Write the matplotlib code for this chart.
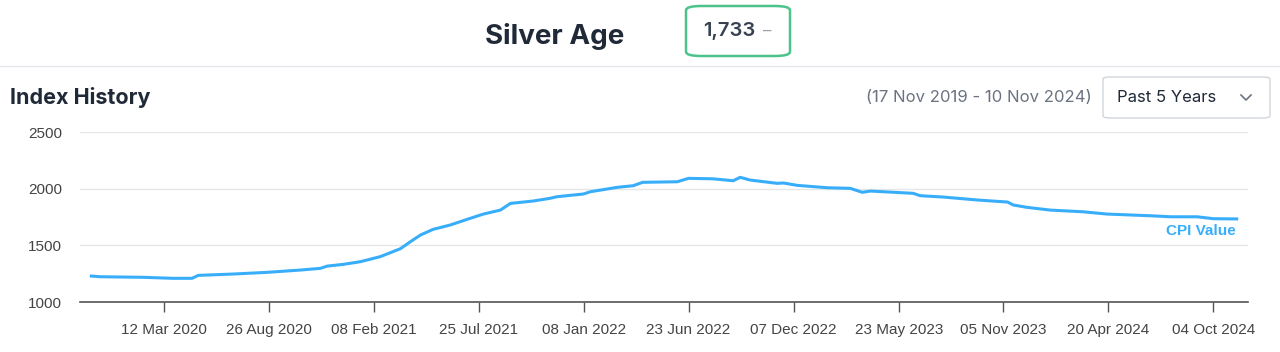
import matplotlib.pyplot as plt
import matplotlib.dates as mdates
from matplotlib.patches import FancyBboxPatch
from matplotlib.lines import Line2D
import pandas as pd

plt.rcParams['font.family'] = ['Inter', 'DejaVu Sans']

# index history
dates = ["2019-11-17", "2019-12-01", "2020-02-08", "2020-03-26", "2020-04-25",
         "2020-05-05", "2020-06-30", "2020-08-23", "2020-10-14", "2020-11-15",
         "2020-11-26", "2020-12-21", "2021-01-17", "2021-02-18", "2021-03-22",
         "2021-04-07", "2021-04-23", "2021-05-13", "2021-06-09", "2021-07-06",
         "2021-08-01", "2021-08-28", "2021-09-13", "2021-10-19", "2021-11-15",
         "2021-11-26", "2022-01-07", "2022-01-18", "2022-03-02", "2022-03-27",
         "2022-04-11", "2022-06-05", "2022-06-23", "2022-08-01", "2022-09-02",
         "2022-09-13", "2022-09-29", "2022-11-11", "2022-11-21", "2022-12-13",
         "2023-01-30", "2023-03-07", "2023-03-26", "2023-04-08", "2023-06-15",
         "2023-06-26", "2023-08-02", "2023-09-25", "2023-11-12", "2023-11-21",
         "2023-12-13", "2024-01-19", "2024-03-11", "2024-04-18", "2024-06-26",
         "2024-07-28", "2024-09-08", "2024-10-04", "2024-11-10"]
values = [1229, 1223, 1218, 1209, 1209,
          1235, 1247, 1262, 1282, 1297,
          1317, 1332, 1355, 1400, 1470,
          1532, 1591, 1641, 1679, 1729,
          1776, 1811, 1870, 1891, 1915,
          1929, 1953, 1973, 2012, 2026,
          2056, 2061, 2091, 2087, 2070,
          2100, 2076, 2047, 2050, 2029,
          2008, 2003, 1968, 1979, 1959,
          1938, 1926, 1900, 1882, 1856,
          1835, 1811, 1796, 1776, 1761,
          1752, 1752, 1735, 1733]

tick_dates = ["2020-03-12", "2020-08-26", "2021-02-08", "2021-07-25", "2022-01-08",
              "2022-06-23", "2022-12-07", "2023-05-23", "2023-11-05", "2024-04-20",
              "2024-10-04"]
y_ticks = [1000, 1500, 2000, 2500]

title = "Silver Age"
current_value = "1,733"
section_title = "Index History"
range_text = "(17 Nov 2019 - 10 Nov 2024)"
period_text = "Past 5 Years"
series_name = "CPI Value"

x = pd.to_datetime(dates)
ticks = pd.to_datetime(tick_dates)

blue = "#38aefa"
dark = "#1f2937"
axis_font = ['Liberation Sans', 'DejaVu Sans']

fig = plt.figure(figsize=(12.8, 3.52), dpi=100)
ax = fig.add_axes([0.0625, 0.142, 0.9125, 0.483])

ax.plot(x, values, color=blue, lw=2.2, solid_joinstyle='round')
ax.set_ylim(1000, 2500)
ax.set_yticks(y_ticks)
ax.set_xlim(pd.Timestamp("2019-10-30"), pd.Timestamp("2024-11-28"))
ax.set_xticks(ticks)
ax.xaxis.set_major_formatter(mdates.DateFormatter("%d %b %Y"))

ax.grid(axis='y', color='#e6e6e6', lw=1)
ax.set_axisbelow(True)
for s in ['top', 'right', 'left']:
    ax.spines[s].set_visible(False)
ax.spines['bottom'].set_color('#555555')
ax.spines['bottom'].set_linewidth(1.2)
ax.tick_params(axis='y', length=0, pad=13, labelsize=11, labelcolor='#444444')
ax.tick_params(axis='x', length=7, width=1, color='#555555', pad=8,
               labelsize=11, labelcolor='#444444')
for lbl in ax.get_xticklabels() + ax.get_yticklabels():
    lbl.set_family(axis_font)

ax.text(x[-1] - pd.Timedelta(days=2), 1630, series_name, color=blue,
        fontsize=11, fontweight='bold', ha='right', va='center', family=axis_font)

# header
fig.text(555 / 1280, 1 - 37 / 352, title, fontsize=20, fontweight='bold',
         color=dark, ha='center', va='center')
box = FancyBboxPatch((686 / 1280, 1 - 56 / 352), 104 / 1280, 50 / 352,
                     boxstyle="round,pad=0,rounding_size=0.012",
                     transform=fig.transFigure, fill=False,
                     edgecolor='#4cc38a', lw=1.8)
fig.patches.append(box)
fig.text(729 / 1280, 1 - 31 / 352, current_value, fontsize=14.5,
         fontweight='semibold', color='#374151', ha='center', va='center')
fig.text(767 / 1280, 1 - 31 / 352, "\u2013", fontsize=12,
         color='#9ca3af', ha='center', va='center')
fig.lines.append(Line2D([0, 1], [1 - 66 / 352] * 2, transform=fig.transFigure,
                        color='#e5e7eb', lw=1))

fig.text(10 / 1280, 1 - 98 / 352, section_title, fontsize=15.5, fontweight='bold',
         color=dark, ha='left', va='center')
fig.text(1092 / 1280, 1 - 98 / 352, range_text, fontsize=12,
         color='#6b7280', ha='right', va='center')
drop = FancyBboxPatch((1103 / 1280, 1 - 118 / 352), 167 / 1280, 41 / 352,
                      boxstyle="round,pad=0,rounding_size=0.006",
                      transform=fig.transFigure, fill=False,
                      edgecolor='#d1d5db', lw=1)
fig.patches.append(drop)
fig.text(1117 / 1280, 1 - 97 / 352, period_text, fontsize=12,
         color=dark, ha='left', va='center')
fig.lines.append(Line2D([1241 / 1280, 1246 / 1280, 1251 / 1280],
                        [1 - 95 / 352, 1 - 100 / 352, 1 - 95 / 352],
                        transform=fig.transFigure, color='#6b7280', lw=1.2))

fig.savefig("out.png", dpi=100)
